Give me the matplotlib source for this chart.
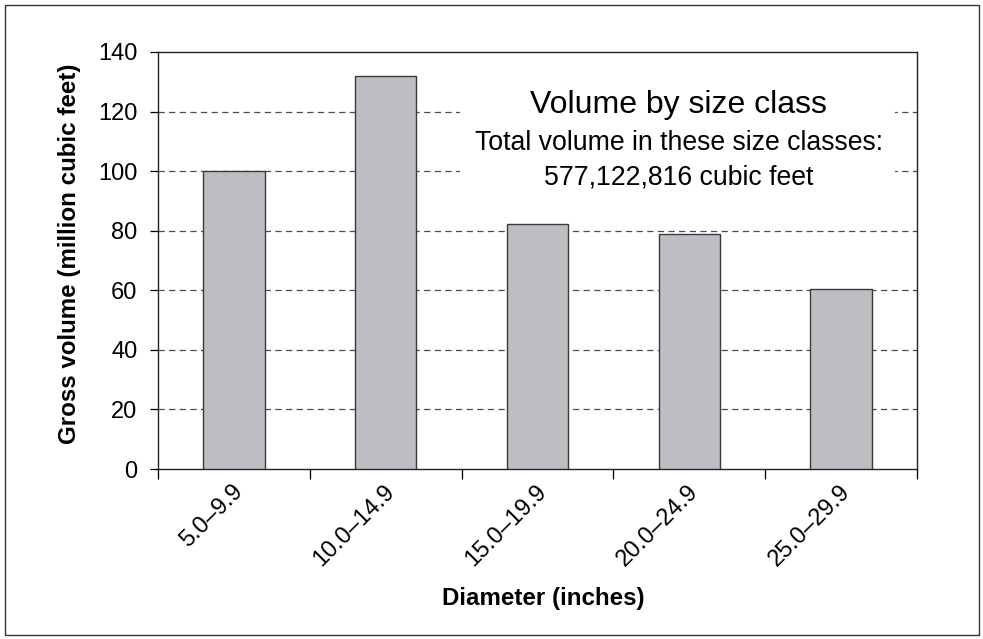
import matplotlib
matplotlib.use("Agg")
import matplotlib.pyplot as plt
from matplotlib.patches import Rectangle
from matplotlib.transforms import ScaledTranslation

plt.rcParams['font.family'] = ['Liberation Sans', 'DejaVu Sans']

categories = ["5.0–9.9", "10.0–14.9", "15.0–19.9", "20.0–24.9", "25.0–29.9"]
volumes = [100.2, 132.0, 82.1, 78.8, 60.5]
yticks = [0, 20, 40, 60, 80, 100, 120, 140]
title_lines = ["Volume by size class", "Total volume in these size classes:", "577,122,816 cubic feet"]

W, H = 983, 639
fig = plt.figure(figsize=(W / 100, H / 100), dpi=100)
ax = fig.add_axes([158 / W, 1 - 469 / H, (917 - 158) / W, (469 - 52) / H])

x = list(range(len(categories)))
ax.bar(x, volumes, width=0.405, color="#bdbec2", edgecolor="#3a3a3a", linewidth=1.0, zorder=3)

ax.set_xlim(-0.5, len(categories) - 0.5)
ax.set_ylim(0, 140)
ax.set_yticks(yticks)
ax.set_yticklabels([str(v) for v in yticks], fontsize=17)
ax.tick_params(axis='y', direction='out', length=5.8, width=0.9, pad=9)

ax.set_xticks(x)
ax.set_xticklabels(categories, fontsize=17, rotation=45, ha='right', va='center', rotation_mode='anchor')
ax.tick_params(axis='x', which='major', length=0, pad=14)
shift = ScaledTranslation(6 / 100, 0, fig.dpi_scale_trans)
for lbl in ax.get_xticklabels():
    lbl.set_transform(lbl.get_transform() + shift)
ax.set_xticks([i - 0.5 for i in range(len(categories) + 1)], minor=True)
ax.tick_params(axis='x', which='minor', direction='out', length=7, width=0.9)

for yv in yticks[1:-1]:
    ax.axhline(yv, color="#4d4d4d", linewidth=0.9, linestyle=(0, (5, 3.5)), zorder=1)

for s in ax.spines.values():
    s.set_linewidth(1.0)
    s.set_color("#222222")

ax.set_ylabel("Gross volume (million cubic feet)", fontsize=17.4, fontweight='bold')
ax.yaxis.set_label_coords(-0.101, 0.516)
ax.set_xlabel("Diameter (inches)", fontsize=17.4, fontweight='bold')
ax.xaxis.set_label_coords(0.508, -0.283)

ax.add_patch(Rectangle((0.398, 0.64), 0.573, 0.32, transform=ax.transAxes,
                       facecolor='white', edgecolor='none', zorder=2))
ax.text(0.686, 0.853, title_lines[0], transform=ax.transAxes, fontsize=23,
        ha='center', va='baseline', zorder=4)
ax.text(0.686, 0.765, title_lines[1], transform=ax.transAxes, fontsize=19.2,
        ha='center', va='baseline', zorder=4)
ax.text(0.686, 0.683, title_lines[2], transform=ax.transAxes, fontsize=19.2,
        ha='center', va='baseline', zorder=4)

fig.patches.append(Rectangle((4.5 / W, 4.5 / H), (W - 9) / W, (H - 9) / H,
                             transform=fig.transFigure, fill=False,
                             edgecolor="#333333", linewidth=1.0))

fig.savefig("out.png", dpi=100)
